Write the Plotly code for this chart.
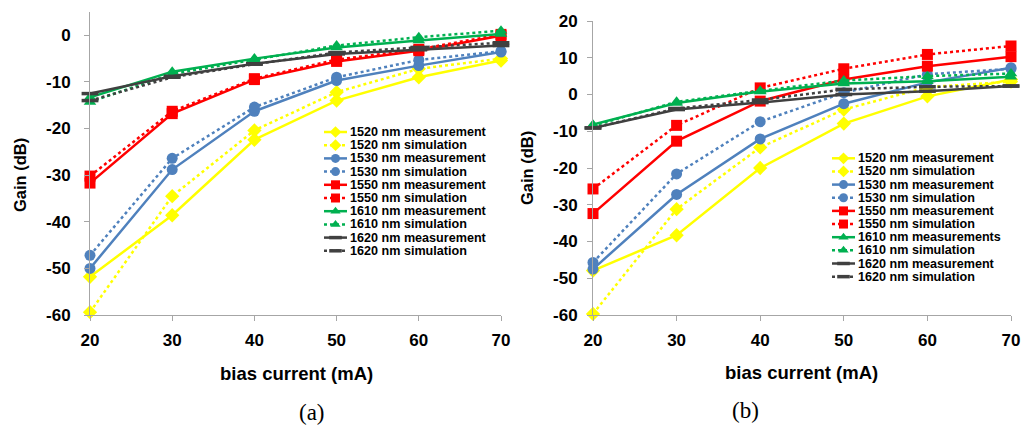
import plotly.graph_objects as go

W, H = 1021, 425

bias_current = [20, 30, 40, 50, 60, 70]

# (a) values, dB
a_1520_meas = [-51.8, -38.6, -22.4, -14.0, -9.0, -5.4]
a_1520_sim = [-59.4, -34.5, -20.4, -12.2, -7.2, -5.0]
a_1530_meas = [-50.0, -28.8, -16.3, -9.7, -6.5, -3.6]
a_1530_sim = [-47.2, -26.4, -15.4, -9.0, -5.3, -3.4]
a_1550_meas = [-31.7, -16.8, -9.5, -5.6, -3.3, -0.1]
a_1550_sim = [-30.2, -16.3, -9.3, -5.2, -3.0, 0.2]
a_1610_meas = [-13.3, -7.8, -5.0, -2.6, -1.1, 0.3]
a_1610_sim = [-14.3, -8.3, -5.2, -2.2, -0.4, 1.0]
a_1620_meas = [-12.5, -8.8, -6.1, -4.0, -3.1, -2.2]
a_1620_sim = [-14.0, -9.0, -6.2, -3.7, -2.6, -1.6]

# (b) values, dB
b_1520_meas = [-47.9, -38.3, -20.0, -7.9, -0.5, 4.1]
b_1520_sim = [-59.7, -31.2, -14.4, -4.1, 2.0, 3.5]
b_1530_meas = [-47.5, -27.2, -12.1, -2.5, 3.3, 7.3]
b_1530_sim = [-45.7, -21.6, -7.4, 0.5, 5.5, 7.0]
b_1550_meas = [-32.4, -12.7, -1.8, 4.1, 7.7, 10.3]
b_1550_sim = [-25.7, -8.4, 1.8, 7.0, 10.9, 13.2]
b_1610_meas = [-8.2, -2.3, 0.8, 3.0, 3.6, 4.8]
b_1610_sim = [-8.5, -2.0, 1.0, 3.8, 5.0, 5.7]
b_1620_meas = [-9.1, -4.1, -2.2, 0.0, 0.9, 2.3]
b_1620_sim = [-9.1, -3.8, -1.5, 1.4, 2.1, 2.3]

labels_a = ["1520 nm measurement", "1520 nm simulation", "1530 nm measurement", "1530 nm simulation",
            "1550 nm measurement", "1550 nm simulation", "1610 nm measurement", "1610 nm simulation",
            "1620 nm measurement", "1620 nm simulation"]
labels_b = ["1520 nm measurement", "1520 nm simulation", "1530 nm measurement", "1530 nm simulation",
            "1550 nm measurement", "1550 nm simulation", "1610 nm measurements", "1610 nm simulation",
            "1620 nm measurement", "1620 nm simulation"]

yticks_a = [-60, -50, -40, -30, -20, -10, 0]
yticks_b = [-60, -50, -40, -30, -20, -10, 0, 10, 20]
xticks = [20, 30, 40, 50, 60, 70]

series_a = [a_1520_meas, a_1520_sim, a_1530_meas, a_1530_sim, a_1550_meas,
            a_1550_sim, a_1610_meas, a_1610_sim, a_1620_meas, a_1620_sim]
series_b = [b_1520_meas, b_1520_sim, b_1530_meas, b_1530_sim, b_1550_meas,
            b_1550_sim, b_1610_meas, b_1610_sim, b_1620_meas, b_1620_sim]

colors = ["#FFFF00", "#FFFF00", "#4F81BD", "#4F81BD", "#FF0000", "#FF0000",
          "#00B050", "#00B050", "#404040", "#404040"]
symbols = ["diamond", "diamond", "circle", "circle", "square", "square",
           "triangle-up", "triangle-up", "line-ew", "line-ew"]
dashes = ["solid", "dot"] * 5
msizes = [11, 11, 11, 11, 11, 11, 11, 11, 12, 12]

FONT = "Arial, Liberation Sans, sans-serif"
SERIF = "Times New Roman, Liberation Serif, serif"


def fx(p):
    return p / W


def fy(p):
    return 1 - p / H


fig = go.Figure()


def marker_for(i, size):
    if symbols[i] == "line-ew":
        return dict(symbol="line-ew", size=size, line=dict(color=colors[i], width=3.5))
    return dict(symbol=symbols[i], size=size, color=colors[i], line=dict(width=0))


for ax, series in (("", series_a), ("2", series_b)):
    for i, ys in enumerate(series):
        fig.add_trace(go.Scatter(
            x=bias_current, y=ys, mode="lines+markers",
            xaxis="x" + ax, yaxis="y" + ax,
            line=dict(color=colors[i], width=2.5, dash=dashes[i]),
            marker=marker_for(i, msizes[i]),
            cliponaxis=False, showlegend=False, hoverinfo="skip"))

# custom compact legends (paper coordinates via overlay axes)
legend_specs = [
    (labels_a, 324, 132.0, 13.2),
    (labels_b, 832, 158.3, 13.15),
]
annotations = []
for labels, x0p, y0p, step in legend_specs:
    for i, lab in enumerate(labels):
        yy = fy(y0p + i * step)
        xa, xb = fx(x0p), fx(x0p + 23)
        xm = (xa + xb) / 2
        fig.add_trace(go.Scatter(
            x=[xa, xb], y=[yy, yy], mode="lines", xaxis="x3", yaxis="y3",
            line=dict(color=colors[i], width=2.5, dash=dashes[i]),
            showlegend=False, hoverinfo="skip", cliponaxis=False))
        fig.add_trace(go.Scatter(
            x=[xm], y=[yy], mode="markers", xaxis="x3", yaxis="y3",
            marker=marker_for(i, 9),
            showlegend=False, hoverinfo="skip", cliponaxis=False))
        annotations.append(dict(
            x=fx(x0p + 23.5), y=yy, xref="paper", yref="paper", text=lab,
            showarrow=False, xanchor="left", yanchor="middle",
            font=dict(family=FONT, size=12.6, color="black", weight="bold")))

# axis titles and captions
xt_font = dict(family=FONT, size=18.5, color="black", weight="bold")
yt_font = dict(family=FONT, size=16.5, color="black", weight="bold")
cap_font = dict(family=SERIF, size=23, color="black")
centered = dict(showarrow=False, xref="paper", yref="paper", xanchor="center", yanchor="middle")
annotations += [
    dict(x=fx(296), y=fy(373), text="bias current (mA)", font=xt_font, **centered),
    dict(x=fx(801), y=fy(372), text="bias current (mA)", font=xt_font, **centered),
    dict(x=fx(20), y=fy(175), text="Gain (dB)", textangle=-90, font=yt_font, **centered),
    dict(x=fx(527), y=fy(168), text="Gain (dB)", textangle=-90, font=yt_font, **centered),
    dict(x=fx(312), y=fy(412), text="(a)", font=cap_font, **centered),
    dict(x=fx(745), y=fy(410), text="(b)", font=cap_font, **centered),
]

tick_font = dict(family=FONT, size=17, color="black", weight="bold")
axis_common = dict(showgrid=False, zeroline=False, showline=True, linecolor="#A6A6A6",
                   linewidth=1, ticks="outside", ticklen=5, tickcolor="#A6A6A6",
                   tickfont=tick_font, automargin=False)

fig.update_layout(
    width=W, height=H,
    margin=dict(l=0, r=0, t=0, b=0, pad=0, autoexpand=False),
    paper_bgcolor="white", plot_bgcolor="rgba(0,0,0,0)",
    showlegend=False,
    xaxis=dict(domain=[fx(90), fx(501)], range=[20, 70], anchor="y",
               tickvals=xticks, ticktext=[str(v) for v in xticks],
               ticklabelstandoff=5, **axis_common),
    yaxis=dict(domain=[fy(315), fy(12)], range=[-60, 5], anchor="x",
               tickvals=yticks_a, ticktext=[str(v) for v in yticks_a],
               ticklabelstandoff=10, **axis_common),
    xaxis2=dict(domain=[fx(593), fx(1011)], range=[20, 70], anchor="y2",
                tickvals=xticks, ticktext=[str(v) for v in xticks],
                ticklabelstandoff=5, **axis_common),
    yaxis2=dict(domain=[fy(315), fy(21)], range=[-60, 20], anchor="x2",
                tickvals=yticks_b, ticktext=[str(v) for v in yticks_b],
                ticklabelstandoff=6, **axis_common),
    xaxis3=dict(domain=[0, 1], range=[0, 1], visible=False, anchor="y3", fixedrange=True),
    yaxis3=dict(domain=[0, 1], range=[0, 1], visible=False, anchor="x3", fixedrange=True),
    annotations=annotations,
)

fig.write_html(
    "out.html",
    config={"displayModeBar": False, "staticPlot": True},
    post_script="document.body.style.margin='0px';document.body.style.overflow='hidden';",
)
